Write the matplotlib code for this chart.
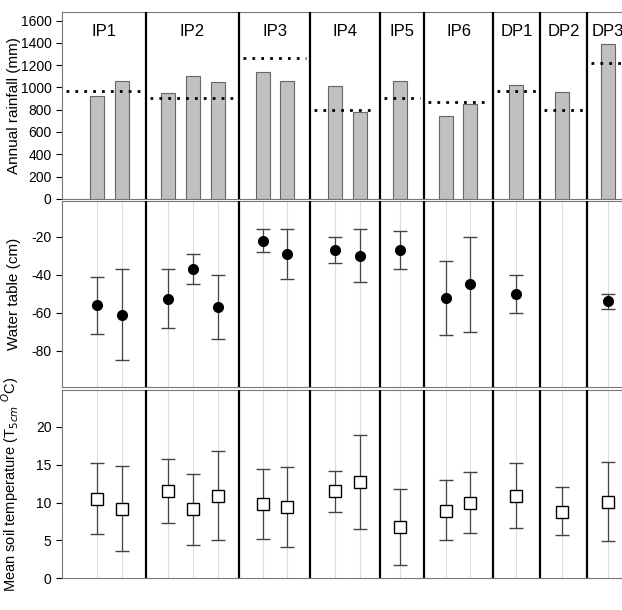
import numpy as np
import matplotlib; matplotlib.use('Agg')
import matplotlib.pyplot as plt

plt.rcParams['font.family'] = ['Liberation Sans', 'DejaVu Sans']
plt.rcParams['axes.unicode_minus'] = False

sites = ['IP1', 'IP2', 'IP3', 'IP4', 'IP5', 'IP6', 'DP1', 'DP2', 'DP3']
# x positions (plot units) of each year within a site
xpos = [[97, 122], [168, 193, 218], [263, 287], [335, 360], [400], [446, 470], [516], [562], [608]]
seps = [62, 146, 239, 310, 380, 424, 493, 540, 587, 640]
rain = [[920, 1060], [950, 1105, 1050], [1135, 1060], [1015, 775], [1060], [745, 855], [1025], [955], [1390]]
rain_mean = [970, 905, 1265, 795, 905, 865, 970, 800, 1215]
wt = [[-56, -61], [-53, -37, -57], [-22, -29], [-27, -30], [-27], [-52, -45], [-50], [None], [-54]]
wt_lo = [[-71, -85], [-68, -45, -74], [-28, -42], [-34, -44], [-37], [-72, -70], [-60], [None], [-58]]
wt_hi = [[-41, -37], [-37, -29, -40], [-16, -16], [-20, -16], [-17], [-33, -20], [-40], [None], [-50]]
tmp = [[10.5, 9.2], [11.5, 9.1, 10.9], [9.8, 9.4], [11.5, 12.7], [6.8], [8.9, 9.9], [10.9], [8.8], [10.1]]
tmp_lo = [[5.8, 3.6], [7.3, 4.4, 5.0], [5.2, 4.1], [8.8, 6.5], [1.8], [5.0, 6.0], [6.6], [5.7], [4.9]]
tmp_hi = [[15.2, 14.8], [15.7, 13.8, 16.8], [14.4, 14.7], [14.2, 18.9], [11.8], [13.0, 14.0], [15.2], [12.0], [15.3]]

fig = plt.figure(figsize=(6.22, 6.10), dpi=100)
W = 630 / 622 - 62 / 622
ax1 = fig.add_axes([62 / 622, 0.674, W, 0.307])
ax2 = fig.add_axes([62 / 622, 0.366, W, 0.305])
ax3 = fig.add_axes([62 / 622, 0.052, W, 0.308])
allx = [x for g in xpos for x in g]

for ax in (ax1, ax2, ax3):
    ax.set_xlim(62, 630)
    ax.set_xticks([])
    for s in seps[1:-1]:
        ax.axvline(s, color='black', lw=1.6, zorder=3)
    for sp in ax.spines.values():
        sp.set_color('#777777')
    ax.tick_params(axis='y', labelsize=10, length=4)
for ax in (ax2, ax3):
    for x in allx:
        ax.axvline(x, color='#dddddd', lw=0.8, zorder=0)

# rainfall
for i, s in enumerate(sites):
    ax1.bar(xpos[i], rain[i], width=14, color='#c0c0c0', edgecolor='#666666', lw=0.8, zorder=2)
    ax1.plot([seps[i] + 4, seps[i + 1] - 4 if i < 8 else 630], [rain_mean[i]] * 2, ls=(0, (1, 2.2)),
             color='black', lw=2, zorder=4)
    cx = (seps[i] + seps[i + 1]) / 2 if i < 8 else 608
    ax1.text(cx, 1500, s, ha='center', va='center', fontsize=12)
ax1.set_ylim(0, 1680)
ax1.set_yticks(range(0, 1601, 200))
ax1.set_ylabel('Annual rainfall (mm)', fontsize=11)

# water table
for i in range(len(sites)):
    for j, x in enumerate(xpos[i]):
        if wt[i][j] is None:
            continue
        ax2.errorbar(x, wt[i][j], yerr=[[wt[i][j] - wt_lo[i][j]], [wt_hi[i][j] - wt[i][j]]],
                     fmt='o', color='black', ecolor='#444444', elinewidth=0.9, capsize=5, ms=7, zorder=4)
ax2.set_ylim(-99, -1)
ax2.set_yticks([-80, -60, -40, -20])
ax2.set_ylabel('Water table (cm)', fontsize=11)

# soil temperature
for i in range(len(sites)):
    for j, x in enumerate(xpos[i]):
        ax3.errorbar(x, tmp[i][j], yerr=[[tmp[i][j] - tmp_lo[i][j]], [tmp_hi[i][j] - tmp[i][j]]],
                     fmt='s', mfc='white', mec='black', color='black', ecolor='#444444',
                     elinewidth=0.9, capsize=5, ms=9, zorder=4)
ax3.set_ylim(0, 24.8)
ax3.set_yticks([0, 5, 10, 15, 20])
ax3.set_ylabel('Mean soil temperature (T$_{5cm}$ $^{O}$C)', fontsize=10.5)

for ax in (ax1, ax2, ax3):
    ax.yaxis.set_label_coords(-0.072, 0.5)

fig.savefig('out.png', dpi=100)
